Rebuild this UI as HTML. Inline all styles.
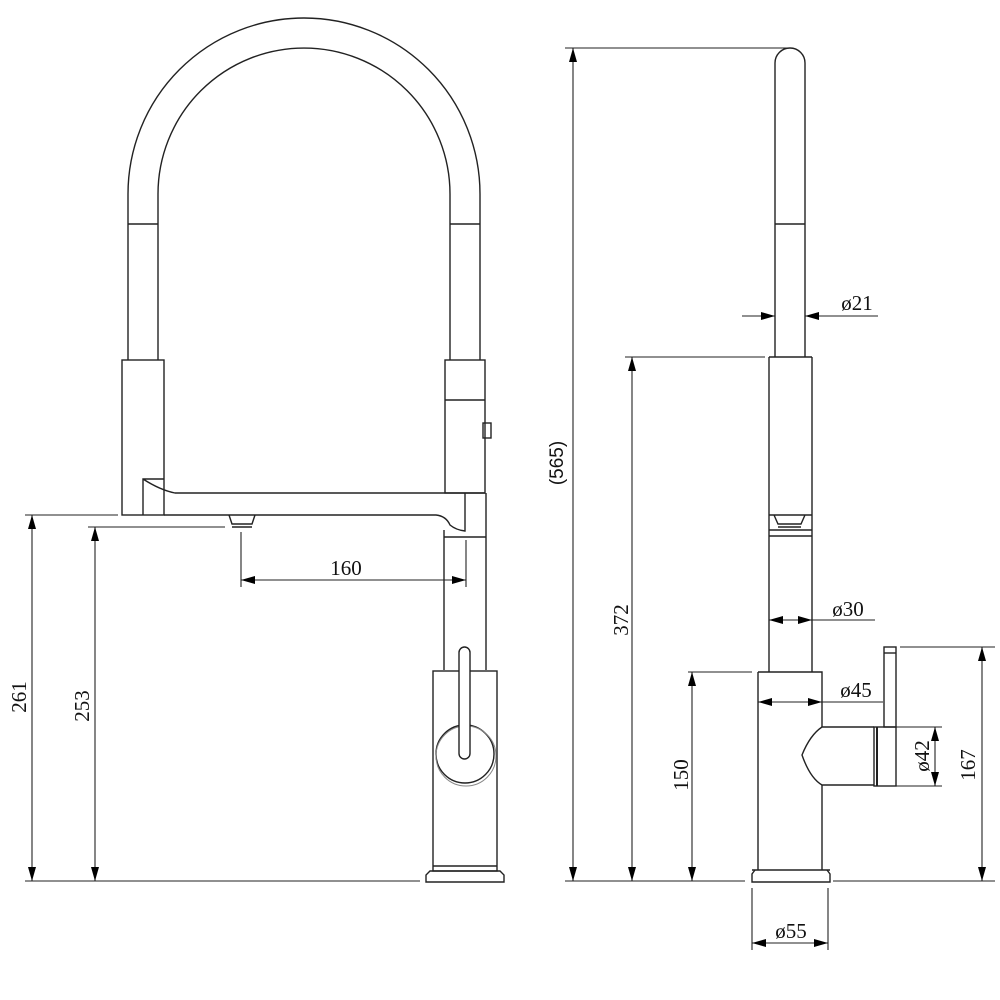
<!DOCTYPE html>
<html><head><meta charset="utf-8"><style>body{margin:0;background:#fff}svg{display:block}</style></head><body>
<svg width="1000" height="1000" viewBox="0 0 1000 1000" xmlns="http://www.w3.org/2000/svg">
<defs>
<marker id="a" viewBox="0 0 14 8" markerWidth="14" markerHeight="8" refX="14" refY="4" orient="auto" markerUnits="userSpaceOnUse"><path d="M0,0L14,4L0,8z" fill="#000"/></marker>
<marker id="b" viewBox="0 0 14 8" markerWidth="14" markerHeight="8" refX="0" refY="4" orient="auto" markerUnits="userSpaceOnUse"><path d="M14,0L0,4L14,8z" fill="#000"/></marker>
</defs>
<g fill="none" stroke="#222" stroke-width="1.4">
<!-- LEFT VIEW -->
<path d="M128,360V194A176,176 0 0 1 480,194V360"/>
<path d="M158,360V194A146,146 0 0 1 450,194V360"/>
<path d="M128,224H158M450,224H480"/>
<rect x="122" y="360" width="42" height="155"/>
<rect x="445" y="360" width="40" height="133"/>
<path d="M445,400H485"/>
<rect x="483" y="423" width="8" height="15"/>
<path d="M143,515V479H164M143,479Q160,490 175,493H485"/>
<path d="M164,515H436Q446,516 450,525Q456,530 465,531V493M444,530V670M444,537H486M486,493V670"/>
<path d="M229,515L232,524H252L255,515M232,527H252"/>
<rect x="433" y="671" width="64" height="200"/>
<path d="M433,866H497"/>
<path d="M430,871H500L504,875V882H426V875Z"/>
<circle cx="465" cy="754" r="29"/>
<circle cx="466" cy="756" r="30" stroke="#888" stroke-width="1"/>
<rect x="459" y="647" width="11" height="112" rx="5.5" fill="#fff"/>
<!-- dims left -->
<g stroke-width="1.1" marker-start="url(#b)" marker-end="url(#a)">
<path d="M32,515V881"/>
<path d="M95,527V881"/>
<path d="M241,580H466"/>
</g>
<g stroke-width="1.1">
<path d="M25,515H118M88,527H225M25,881H420"/>
<path d="M241,532V587M466,540V587"/>
</g>
<!-- RIGHT VIEW -->
<path d="M775,357V63A15,15 0 0 1 805,63V357M775,224H805"/>
<path d="M769,357H812"/>
<path d="M769,357V672M812,357V672M769,515H812M769,530H812M769,536H812M774,515L778,524H801L805,515M778,527H801"/>
<path d="M758,672H822V727M758,672V870M822,785V870M752,870H830"/>
<path d="M755,870L752,874V882H830V874L827,870"/>
<path d="M822,727Q810,735 802,755Q810,778 822,785M822,727H874M822,785H874"/>
<rect x="874" y="727" width="22" height="59"/>
<path d="M877,727V786" stroke-width="2"/>
<rect x="884" y="647" width="12" height="80"/>
<path d="M884,653H896"/>
<!-- dims right -->
<g stroke-width="1.1">
<path d="M565,48H790M625,357H765M688,672H752M565,881H745M833,881H995M900,647H995M896,727H942M896,786H942M752,888V950M828,888V950"/>
<path d="M812,620H875M822,702H883"/>
</g>
<g stroke-width="1.1" marker-start="url(#b)" marker-end="url(#a)">
<path d="M573,48V881"/>
<path d="M632,357V881"/>
<path d="M692,672V881"/>
<path d="M982,647V881"/>
<path d="M935,727V786"/>
<path d="M752,943H828"/>
<path d="M769,620H812"/>
<path d="M758,702H822"/>
</g>
<g stroke-width="1.1" marker-end="url(#a)">
<path d="M742,316H775"/>
<path d="M878,316H805"/>
</g>
</g>
<g font-family="Liberation Serif, serif" font-size="21" fill="#111">
<text x="346" y="575" text-anchor="middle">160</text>
<text transform="translate(26,697) rotate(-90)" text-anchor="middle">261</text>
<text transform="translate(89,706) rotate(-90)" text-anchor="middle">253</text>
<text transform="translate(628,620) rotate(-90)" text-anchor="middle">372</text>
<text transform="translate(688,775) rotate(-90)" text-anchor="middle">150</text>
<text transform="translate(975,765) rotate(-90)" text-anchor="middle">167</text>
<text transform="translate(929,756) rotate(-90)" text-anchor="middle">ø42</text>
<text x="857" y="310" text-anchor="middle">ø21</text>
<text x="848" y="616" text-anchor="middle">ø30</text>
<text x="856" y="697" text-anchor="middle">ø45</text>
<text x="791" y="938" text-anchor="middle">ø55</text>
</g>
<text transform="translate(563,463) rotate(-90)" text-anchor="middle" font-family="Liberation Sans, sans-serif" font-size="19" fill="#111">(565)</text>
</svg>
</body></html>
